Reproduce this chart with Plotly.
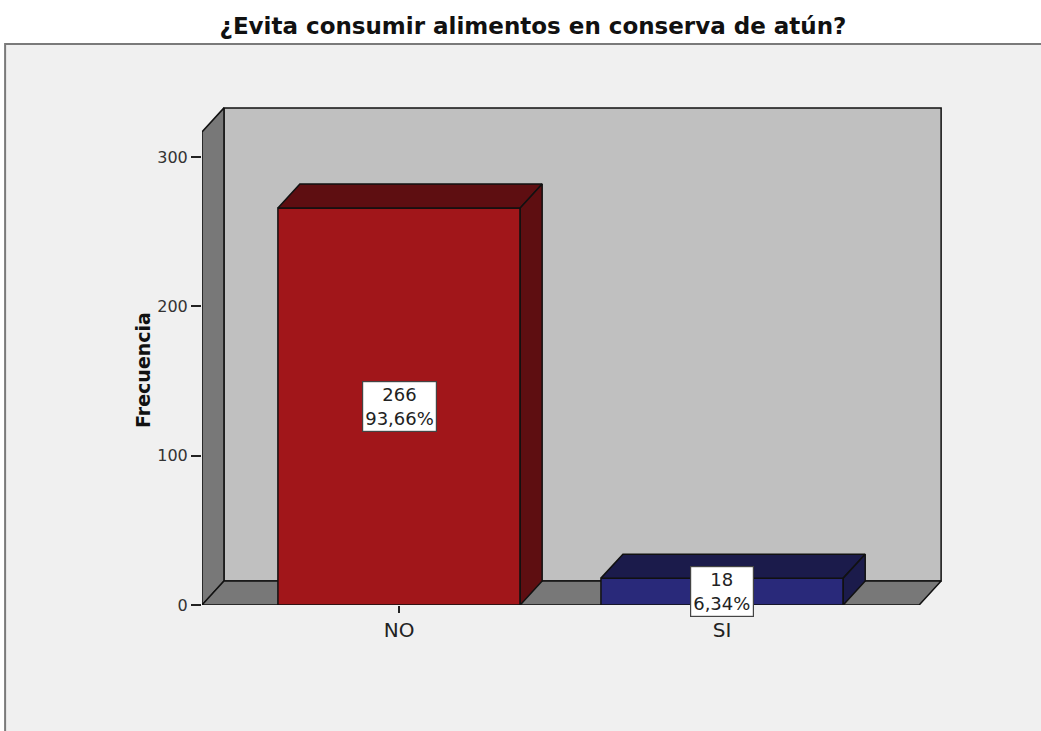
import plotly.graph_objects as go

# Survey answers: "Do you avoid eating canned tuna?"
categories = ["NO", "SI"]
counts = [266, 18]
percents = ["93,66%", "6,34%"]

front_colors = ["#a1161a", "#29297a"]
shade_colors = ["#5e0e11", "#1b1b4b"]

# pseudo-3D geometry, in axis units
half_w = 0.375          # half bar width (category units)
dx, dy = 0.068, 16.07   # depth offset of the back plane
floor_left, floor_right = -0.61, 1.61
wall_top = 317
edge = dict(color="#111111", width=1.5)
FONT = "DejaVu Sans, Arial"

fig = go.Figure()


def face(xs, ys, color):
    fig.add_trace(go.Scatter(
        x=xs + [xs[0]], y=ys + [ys[0]], mode="lines", fill="toself",
        fillcolor=color, line=edge, hoverinfo="skip", showlegend=False))


# back wall, left wall, floor
face([floor_left + dx, floor_right + dx, floor_right + dx, floor_left + dx],
     [dy, dy, wall_top + dy, wall_top + dy], "#c0c0c0")
face([floor_left, floor_left + dx, floor_left + dx, floor_left],
     [0, dy, wall_top + dy, wall_top], "#787878")
face([floor_left, floor_right, floor_right + dx, floor_left + dx],
     [0, 0, dy, dy], "#787878")

# bars: front, top and right-hand faces
for i, v in enumerate(counts):
    x0, x1 = i - half_w, i + half_w
    face([x0, x1, x1, x0], [0, 0, v, v], front_colors[i])
    face([x0, x1, x1 + dx, x0 + dx], [v, v, v + dy, v + dy], shade_colors[i])
    face([x1, x1 + dx, x1 + dx, x1], [0, dy, v + dy, v], shade_colors[i])
    fig.add_annotation(
        x=i, y=v / 2, text=f"{v}<br>{percents[i]}", showarrow=False,
        font=dict(family=FONT, size=18, color="#222222"),
        bgcolor="#ffffff", bordercolor="#444444", borderwidth=1.2, borderpad=2)

# chart frame below the title
fig.add_shape(type="rect", xref="paper", yref="paper",
              x0=-0.265, x1=1.2, y0=-0.3, y1=1.122,
              fillcolor="#f0f0f0", line=dict(color="#7a7a7a", width=2),
              layer="below")

fig.add_annotation(
    text="Frecuencia", textangle=-90, xref="paper", yref="paper",
    x=-0.097, y=0.47, showarrow=False,
    font=dict(family=FONT, size=19, color="#111111", weight="bold"))

fig.update_layout(
    width=1041, height=731,
    margin=dict(l=202, r=96, t=105, b=126),
    paper_bgcolor="#ffffff", plot_bgcolor="rgba(0,0,0,0)",
    title=dict(text="<b>¿Evita consumir alimentos en conserva de atún?</b>",
               x=0.512, xanchor="center", y=0.965, yanchor="middle",
               font=dict(family=FONT, size=23, color="#111111")),
    showlegend=False,
    xaxis=dict(range=[-0.61, 1.69], tickvals=list(range(len(categories))),
               ticktext=categories, ticks="outside", ticklen=7,
               tickcolor="#222222", tickwidth=1.5, showgrid=False,
               zeroline=False, showline=False, fixedrange=True,
               tickfont=dict(family=FONT, size=20, color="#222222")),
    yaxis=dict(range=[0, 335], tickvals=[0, 100, 200, 300],
               ticks="outside", ticklen=10, tickcolor="#222222",
               tickwidth=1.5, showgrid=False, zeroline=False,
               showline=False, fixedrange=True,
               tickfont=dict(family=FONT, size=16, color="#333333")),
)

fig.write_html("out.html")
